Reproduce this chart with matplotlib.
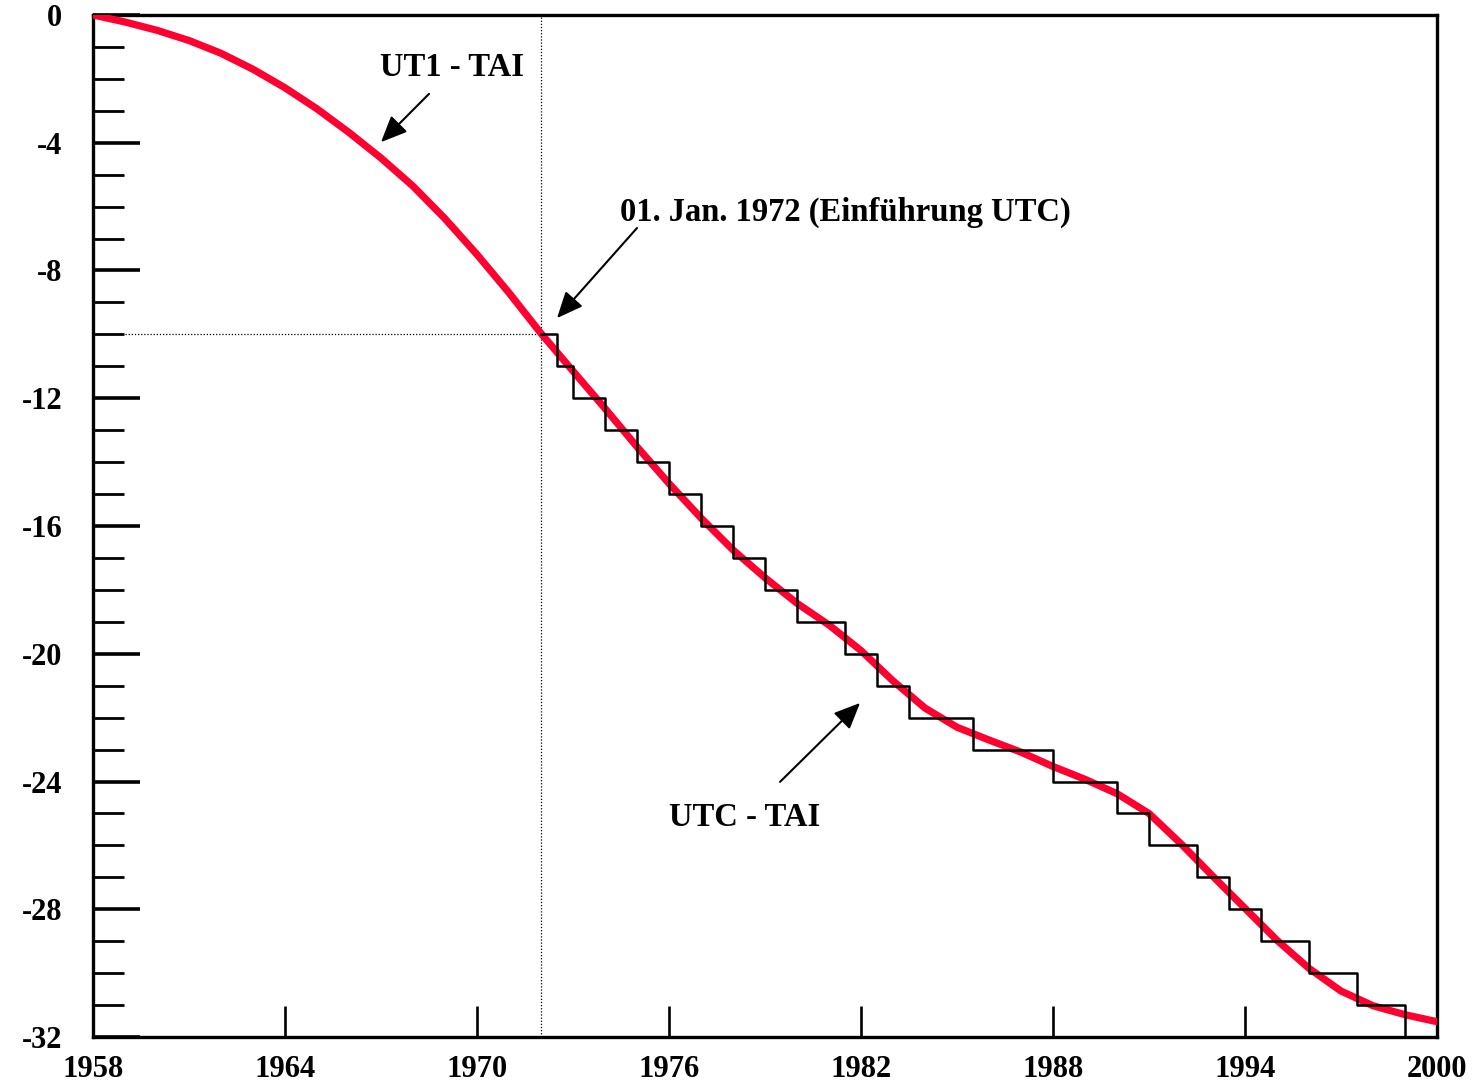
import matplotlib.pyplot as plt
from matplotlib.ticker import MultipleLocator

# UT1 - TAI (seconds)
ut1_years = [1958, 1959, 1960, 1961, 1962, 1963, 1964, 1965, 1966, 1967,
             1968, 1969, 1970, 1971, 1972, 1973, 1974, 1975, 1976, 1977,
             1978, 1979, 1980, 1981, 1982, 1983, 1984, 1985, 1986, 1987,
             1988, 1989, 1990, 1991, 1992, 1993, 1994, 1995, 1996, 1997,
             1998, 1999, 2000]
ut1_values = [0.0, -0.22, -0.48, -0.80, -1.20, -1.70, -2.28, -2.94, -3.68, -4.48,
              -5.36, -6.38, -7.50, -8.70, -9.97, -11.15, -12.32, -13.52, -14.67, -15.75,
              -16.75, -17.62, -18.42, -19.10, -19.90, -20.85, -21.70, -22.30, -22.70, -23.08,
              -23.53, -23.93, -24.38, -25.00, -25.95, -26.97, -27.97, -28.97, -29.85, -30.56,
              -31.02, -31.30, -31.52]

# UTC - TAI (leap second steps)
utc_years = [1972.0, 1972.5, 1973.0, 1974.0, 1975.0, 1976.0, 1977.0, 1978.0, 1979.0,
             1980.0, 1981.5, 1982.5, 1983.5, 1985.5, 1988.0, 1990.0, 1991.0, 1992.5,
             1993.5, 1994.5, 1996.0, 1997.5, 1999.0, 2000.0]
utc_values = [-10, -11, -12, -13, -14, -15, -16, -17, -18,
              -19, -20, -21, -22, -23, -24, -25, -26, -27,
              -28, -29, -30, -31, -32, -32]

x_ticks = [1958, 1964, 1970, 1976, 1982, 1988, 1994, 2000]
y_ticks = [0, -4, -8, -12, -16, -20, -24, -28, -32]

plt.rcParams['font.family'] = ['Liberation Serif', 'DejaVu Serif']
plt.rcParams['font.weight'] = 'bold'
plt.rcParams['axes.unicode_minus'] = False

fig = plt.figure(figsize=(14.79, 10.85), dpi=100)
ax = fig.add_axes([0.0629, 0.0442, 0.9087, 0.942])

ax.plot(ut1_years, ut1_values, color='#FF0030', lw=5.2, solid_joinstyle='round', zorder=3)
ax.step(utc_years, utc_values, where='post', color='black', lw=1.8, zorder=4)

ax.plot([1972, 1972], [-32, 0], color='black', lw=0.9, linestyle=(0, (1, 1.5)), zorder=2)
ax.plot([1959, 1972], [-10, -10], color='black', lw=0.9, linestyle=(0, (1, 1.5)), zorder=2)

ax.set_xlim(1958, 2000)
ax.set_ylim(-32, 0)
ax.set_xticks(x_ticks)
ax.set_yticks(y_ticks)
ax.yaxis.set_minor_locator(MultipleLocator(1))
ax.tick_params(axis='y', which='major', direction='in', length=34, width=2.6,
               labelsize=22, pad=22)
ax.tick_params(axis='y', which='minor', direction='in', length=22, width=2.0)
ax.tick_params(axis='x', which='major', direction='in', length=22, width=1.9,
               labelsize=22, pad=13)
for lab in ax.get_xticklabels() + ax.get_yticklabels():
    lab.set_fontweight('bold')
for s in ax.spines.values():
    s.set_linewidth(2.4)

arrow = dict(arrowstyle='-|>,head_length=1.6,head_width=0.7', color='black',
             lw=1.5, shrinkA=0, shrinkB=0)
ax.annotate('', xy=(1967.0, -3.98), xytext=(1968.5, -2.47), arrowprops=arrow)
ax.annotate('', xy=(1972.5, -9.49), xytext=(1975.0, -6.67), arrowprops=arrow)
ax.annotate('', xy=(1981.97, -21.54), xytext=(1979.47, -24.01), arrowprops=arrow)

ax.text(1969.22, -1.63, 'UT1 - TAI', fontsize=23.5, fontweight='bold', ha='center', va='center')
ax.text(1981.5, -6.17, '01. Jan. 1972 (Einführung UTC)', fontsize=23.5, fontweight='bold',
        ha='center', va='center')
ax.text(1978.375, -25.14, 'UTC - TAI', fontsize=23.5, fontweight='bold', ha='center', va='center')

plt.savefig('out.png', dpi=100)
